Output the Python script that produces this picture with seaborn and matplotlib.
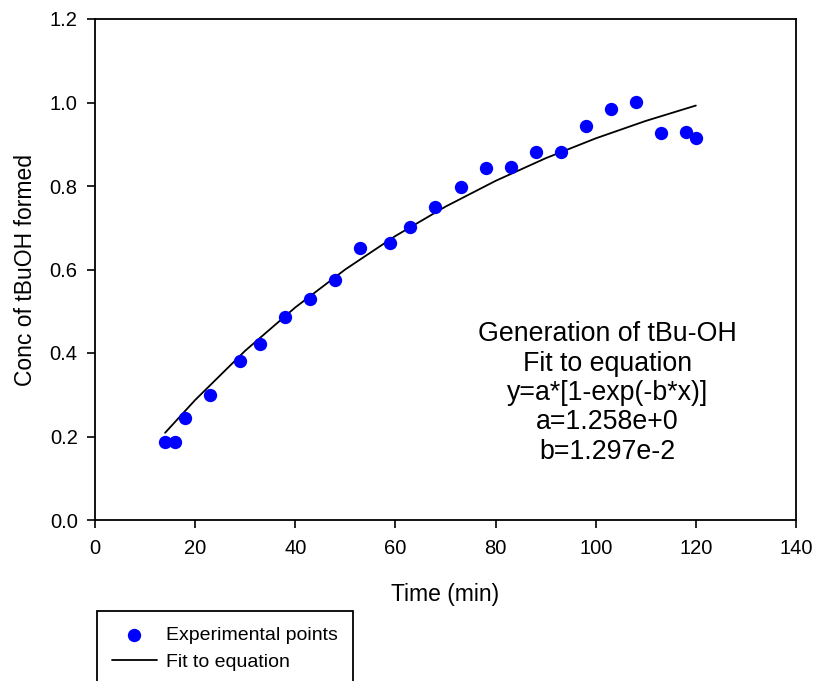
import matplotlib
matplotlib.use("Agg")
import matplotlib.pyplot as plt
import seaborn as sns
import pandas as pd
from matplotlib.patches import Rectangle

# ---- data ----
time_min = [14, 16, 18, 23, 29, 33, 38, 43, 48, 53, 59, 63, 68, 73, 78, 83, 88, 93,
            98, 103, 108, 113, 118, 120]
conc = [0.186, 0.188, 0.245, 0.299, 0.381, 0.421, 0.486, 0.529, 0.574, 0.652, 0.664,
        0.702, 0.749, 0.798, 0.843, 0.845, 0.882, 0.882, 0.944, 0.985, 1.001, 0.928,
        0.930, 0.914]
# fitted curve y=a*[1-exp(-b*x)]
fit_time = [14, 20, 30, 40, 50, 60, 70, 80, 90, 100, 110, 120]
fit_conc = [0.2089, 0.2874, 0.4055, 0.5092, 0.6003, 0.6803, 0.7506, 0.8123, 0.8665,
            0.9141, 0.9559, 0.9927]
x_ticks = [0, 20, 40, 60, 80, 100, 120, 140]
y_ticks = [0.0, 0.2, 0.4, 0.6, 0.8, 1.0, 1.2]
annotation = "Generation of tBu-OH\nFit to equation\ny=a*[1-exp(-b*x)]\na=1.258e+0\nb=1.297e-2"

sns.set_style("ticks")
plt.rcParams["font.family"] = ["Liberation Sans", "DejaVu Sans"]
plt.rcParams["text.color"] = "black"
plt.rcParams["axes.labelcolor"] = "black"

fig = plt.figure(figsize=(8.15, 6.81), dpi=100)
ax = fig.add_axes([95 / 815, 1 - 520 / 681, (796 - 95) / 815, (520 - 19) / 681])

df_pts = pd.DataFrame({"t": time_min, "c": conc})
df_fit = pd.DataFrame({"t": fit_time, "c": fit_conc})

sns.lineplot(data=df_fit, x="t", y="c", color="black", linewidth=1.3,
             estimator=None, sort=False, label="Fit to equation", ax=ax, zorder=2)
sns.scatterplot(data=df_pts, x="t", y="c", color="#0000FF", s=92, linewidth=0,
                label="Experimental points", ax=ax, zorder=3)

ax.set_xlim(0, 140)
ax.set_ylim(0, 1.2)
ax.set_xticks(x_ticks)
ax.set_xticklabels([str(v) for v in x_ticks])
ax.set_yticks(y_ticks)
ax.set_yticklabels([f"{v:.1f}" for v in y_ticks])
ax.tick_params(axis="both", direction="out", length=5.5, width=1.2,
               labelsize=14.5, colors="black", top=False, right=False)
ax.tick_params(axis="x", pad=8)
ax.tick_params(axis="y", pad=7)
for sp in ax.spines.values():
    sp.set_visible(True)
    sp.set_linewidth(1.3)
    sp.set_color("black")

ax.set_xlabel("Time (min)", fontsize=16.5, labelpad=18, color="black")
ax.set_ylabel("Conc of tBuOH formed", fontsize=16.5, labelpad=9, color="black")

ax.text(102.3, 0.304, annotation, ha="center", va="center", multialignment="center",
        fontsize=19.3, color="black", linespacing=1.17)

# legend below the plot
handles, labels = ax.get_legend_handles_labels()
ax.get_legend().remove()
order = [labels.index("Experimental points"), labels.index("Fit to equation")]
leg = fig.legend([handles[i] for i in order], [labels[i] for i in order],
                 loc="upper left", bbox_to_anchor=(112 / 815, 1 - 626 / 681),
                 frameon=False, fontsize=14, borderpad=0, borderaxespad=0,
                 handlelength=2.3, handletextpad=0.5, labelspacing=0.5)
for t in leg.get_texts():
    t.set_color("black")
fig.patches.append(Rectangle((97 / 815, 1 - 720 / 681), (353 - 97) / 815, (720 - 611) / 681,
                             transform=fig.transFigure, fill=False, edgecolor="black",
                             linewidth=1.3, clip_on=False))

fig.savefig("out.png", dpi=100)
